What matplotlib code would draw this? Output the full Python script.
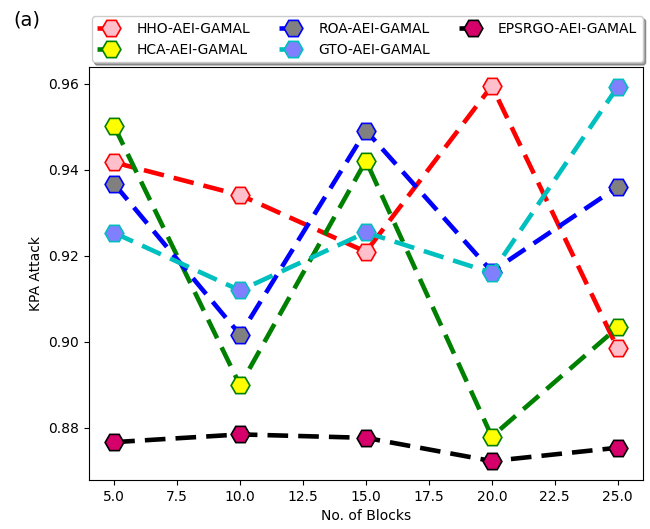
import matplotlib
matplotlib.use("Agg")
import matplotlib.pyplot as plt

blocks = [5, 10, 15, 20, 25]

hho = [0.9417, 0.9341, 0.9209, 0.9595, 0.8984]
hca = [0.9501, 0.8898, 0.9421, 0.8779, 0.9033]
roa = [0.9367, 0.9016, 0.9491, 0.9163, 0.9360]
gto = [0.9253, 0.9119, 0.9254, 0.9160, 0.9593]
epsrgo = [0.8766, 0.8784, 0.8776, 0.8722, 0.8753]

series = [
    ("HHO-AEI-GAMAL", hho, "red", "pink"),
    ("HCA-AEI-GAMAL", hca, "green", "yellow"),
    ("ROA-AEI-GAMAL", roa, "blue", "gray"),
    ("GTO-AEI-GAMAL", gto, "c", "#8080ff"),
    ("EPSRGO-AEI-GAMAL", epsrgo, "black", "#d6006b"),
]

fig = plt.figure(figsize=(6.5, 5.29), dpi=100)
ax = fig.add_axes([0.137, 0.093, 0.852, 0.780])

for name, vals, lc, fc in series:
    ax.plot(blocks, vals, linestyle="--", linewidth=3.3, color=lc,
            dashes=(4.5, 2.2),
            marker="H", markersize=13.5, markerfacecolor=fc,
            markeredgecolor=lc, markeredgewidth=1.2, label=name)

ax.set_xlabel("No. of Blocks")
ax.set_ylabel("KPA Attack")

ax.legend(loc="lower left", bbox_to_anchor=(0.005, 1.012, 0.995, 0.1),
          mode="expand", ncol=3, shadow=True, fontsize=10,
          handlelength=2.0, borderaxespad=0)

fig.text(0.02, 0.962, "(a)", fontsize=14, va="center")

fig.savefig("out.png", dpi=100)
